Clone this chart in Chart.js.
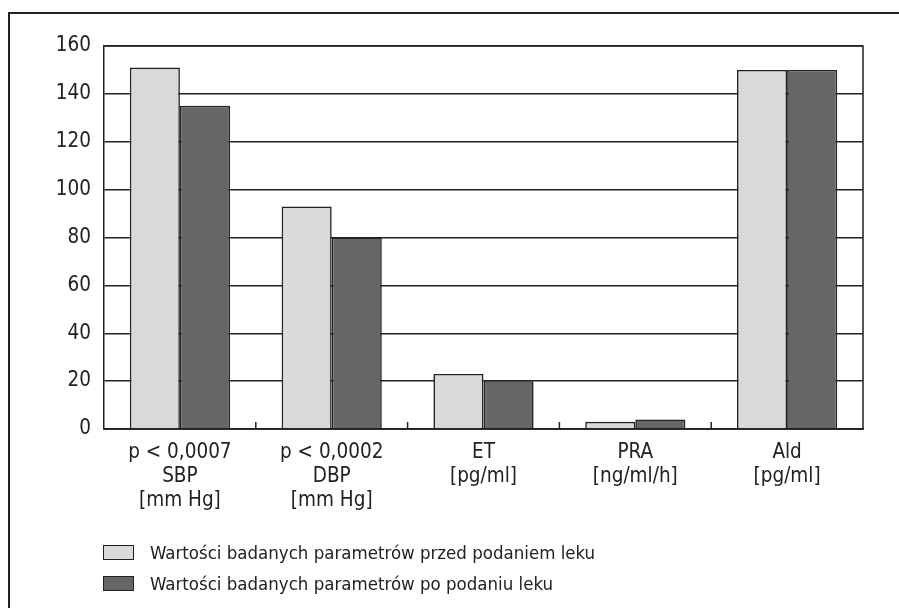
<!DOCTYPE html>
<html lang="pl">
<head>
  <meta charset="UTF-8" />
  <title>Wartości parametrów</title>
  <style>
    html, body {
      margin: 0; padding: 0;
      width: 899px; height: 608px; overflow: hidden;
      background: #fff; position: relative;
      font-family: 'DejaVu Sans Condensed', 'Liberation Sans Narrow', sans-serif;
      color: #222;
    }
    #frame {
      position: absolute; left: 8px; top: 12px; width: 900px; height: 600px;
      border-left: 2px solid #222; border-top: 2px solid #222;
    }
    #wrap { position: absolute; left: 0; top: 0; width: 899px; height: 608px; }
    #legend { position: absolute; left: 103px; top: 537px; font-size: 18.5px; }
    .item { height: 31px; display: flex; align-items: center; }
    .sw { width: 29px; height: 13px; border: 1px solid #222; margin-right: 16px; }
  </style>
  <script src="https://cdn.jsdelivr.net/npm/chart.js"></script>
</head>
<body>
  <div id="frame"></div>
  <div id="wrap"><canvas id="c" width="899" height="608"></canvas></div>
  <div id="legend"></div>

  <script>
    // ─── data ─────────────────────────────────────────────
    const categories = [
      ['p < 0,0007', 'SBP', '[mm Hg]'],
      ['p < 0,0002', 'DBP', '[mm Hg]'],
      ['ET', '[pg/ml]'],
      ['PRA', '[ng/ml/h]'],
      ['Ald', '[pg/ml]']
    ];
    const seriesNames = [
      'Wartości badanych parametrów przed podaniem leku',
      'Wartości badanych parametrów po podaniu leku'
    ];
    const beforeValues = [151, 93, 23, 3, 150];
    const afterValues  = [135, 80, 20, 4, 150];
    const yTicks = [0, 20, 40, 60, 80, 100, 120, 140, 160];

    const FILLS = ['#d9d9d9', '#666666'];
    const INK = '#222';
    const FONT = "'DejaVu Sans Condensed', 'Liberation Sans Narrow', sans-serif";

    // box around plot + small ticks between categories
    const framePlugin = {
      id: 'framePlugin',
      afterDatasetsDraw(chart) {
        const { ctx, chartArea: a, scales: { x } } = chart;
        ctx.save();
        ctx.strokeStyle = INK;
        ctx.lineWidth = 1.5;
        ctx.beginPath();
        ctx.moveTo(a.left, a.top); ctx.lineTo(a.right, a.top);
        ctx.lineTo(a.right, a.bottom); ctx.lineTo(a.left, a.bottom);
        ctx.stroke();
        for (let i = 1; i < categories.length; i++) {
          const px = (x.getPixelForValue(i - 1) + x.getPixelForValue(i)) / 2;
          ctx.beginPath();
          ctx.moveTo(px, a.bottom); ctx.lineTo(px, a.bottom - 7);
          ctx.stroke();
        }
        ctx.restore();
      }
    };

    const chart = new Chart(document.getElementById('c'), {
      type: 'bar',
      data: {
        labels: categories,
        datasets: [
          { label: seriesNames[0], data: beforeValues, backgroundColor: FILLS[0] },
          { label: seriesNames[1], data: afterValues,  backgroundColor: FILLS[1] }
        ]
      },
      options: {
        responsive: false,
        animation: false,
        layout: { padding: { left: 0, top: 46, right: 36, bottom: 0 } },
        datasets: {
          bar: {
            borderColor: INK, borderWidth: 1.6,
            barPercentage: 1, categoryPercentage: 0.66
          }
        },
        scales: {
          x: {
            grid: { display: false },
            border: { color: INK, width: 1.5 },
            ticks: {
              color: INK, padding: 4, maxRotation: 0, autoSkip: false,
              font: { family: FONT, size: 20.5, lineHeight: 1.17 }
            },
            afterFit: s => { s.height = 179; }
          },
          y: {
            min: 0, max: 160,
            afterBuildTicks: s => { s.ticks = yTicks.map(v => ({ value: v })); },
            grid: { color: INK, lineWidth: 1.5, drawTicks: false },
            border: { color: INK, width: 1.5 },
            ticks: {
              color: INK, padding: 13,
              font: { family: FONT, size: 20.5 }
            },
            afterFit: s => { s.width = 104; }
          }
        },
        plugins: { legend: { display: false }, tooltip: { enabled: false } }
      },
      plugins: [framePlugin]
    });

    // legend built from the datasets
    const lg = document.getElementById('legend');
    chart.data.datasets.forEach(ds => {
      const row = document.createElement('div');
      row.className = 'item';
      row.innerHTML = `<span class="sw" style="background:${ds.backgroundColor}"></span><span>${ds.label}</span>`;
      lg.appendChild(row);
    });
  </script>
</body>
</html>
